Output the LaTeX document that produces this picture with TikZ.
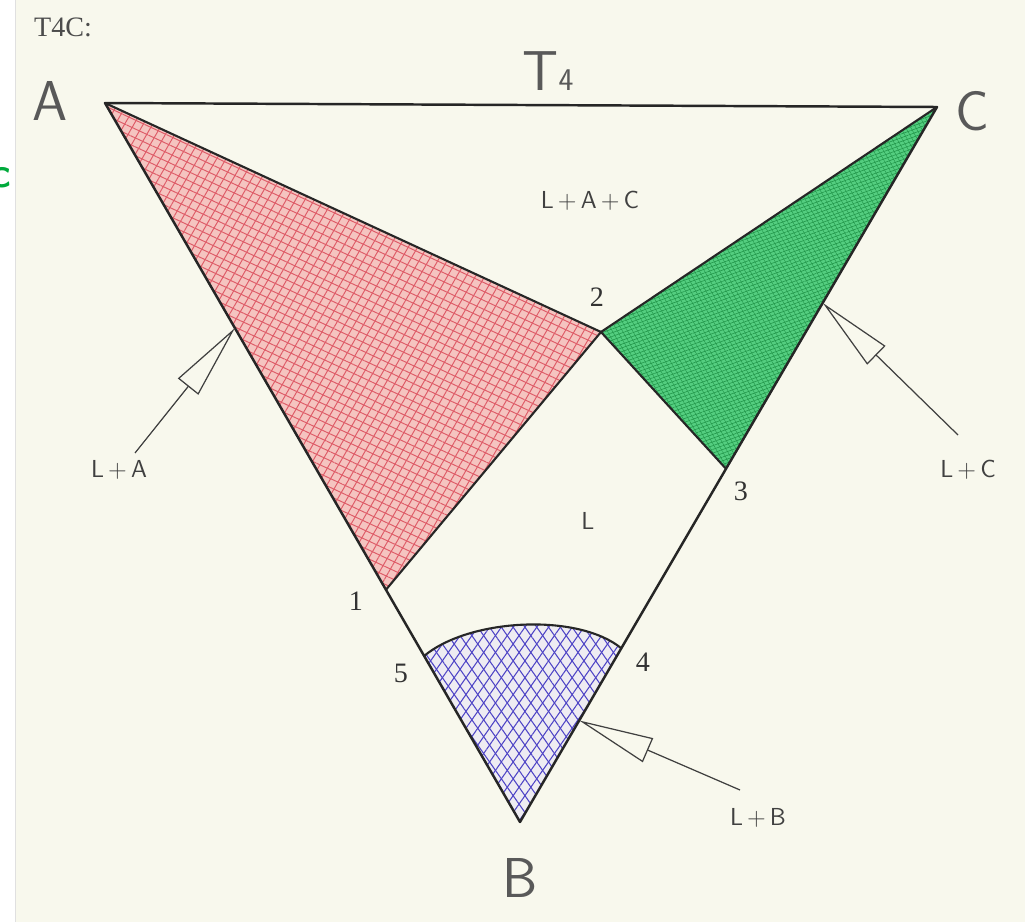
\documentclass[tikz,border=0pt]{standalone}
\usepackage{fontspec}
\setmainfont{Liberation Serif}
\usetikzlibrary{arrows.meta, calc, patterns.meta}
\definecolor{paper}{RGB}{248,248,237}
\definecolor{fillR}{RGB}{245,196,192}
\definecolor{hatchR}{RGB}{222,92,104}
\definecolor{fillG}{RGB}{84,206,128}
\definecolor{hatchG}{RGB}{34,150,74}
\definecolor{fillB}{RGB}{238,236,242}
\definecolor{hatchB}{RGB}{78,68,198}
\definecolor{tagG}{RGB}{0,170,60}
\tikzset{
  side/.style   ={line width=1.4pt, black!85, line join=round},
  tie/.style    ={line width=1.2pt, black!85},
  ptr/.style    ={-{Triangle[open, length=15mm, width=5.2mm]}, line width=0.7pt, black!75},
  corner/.style ={font=\fontsize{32}{36}\sffamily, text=black!65},
  phase/.style  ={font=\fontsize{14}{16}\sffamily, text=black!75},
  num/.style    ={font=\fontsize{16}{18}\selectfont, text=black!80},
  hatchRed/.style  ={fill=fillR,
     postaction={pattern={Lines[angle=-25,distance=4.6pt,line width=.55pt]}, pattern color=hatchR},
     postaction={pattern={Lines[angle=60,distance=4.6pt,line width=.55pt]}, pattern color=hatchR}},
  hatchGreen/.style={fill=fillG,
     postaction={pattern={Lines[angle=20,distance=2pt,line width=.35pt]}, pattern color=hatchG},
     postaction={pattern={Lines[angle=-60,distance=2.5pt,line width=.25pt]}, pattern color=hatchG}},
  hatchBlue/.style ={fill=fillB,
     postaction={pattern={Lines[angle=55,distance=5.5pt,line width=.6pt]}, pattern color=hatchB},
     postaction={pattern={Lines[angle=125,distance=5.5pt,line width=.6pt]}, pattern color=hatchB}},
}
\begin{document}
\begin{tikzpicture}
\begin{scope}[x=0.02cm, y=-0.02cm]
  \useasboundingbox (0,0) rectangle (1025,922);
  \fill[paper] (0,0) rectangle (1025,922);
  \fill[white] (0,0) rectangle (15,922);
  \draw[black!12, line width=0.4pt] (15,0) -- (15,922);

  \coordinate (A) at (105,103);
  \coordinate (C) at (937,107);
  \coordinate (B) at (520,822);
  \coordinate (p2) at (601,332);
  \coordinate (p1) at ($(A)!0.677!(B)$);
  \coordinate (p5) at ($(A)!0.769!(B)$);
  \coordinate (p3) at ($(C)!0.506!(B)$);
  \coordinate (p4) at ($(C)!0.757!(B)$);

  \fill[hatchRed] (A) -- (p2) -- (p1) -- cycle;
  \fill[hatchGreen] (C) -- (p2) -- (p3) -- cycle;
  \fill[hatchBlue] (p5) .. controls (470,618) and (578,613) .. (p4) -- (B) -- cycle;

  \draw[side] (A) -- (C) -- (B) -- cycle;
  \draw[tie] (A) -- (p2) -- (C);
  \draw[tie] (p1) -- (p2) -- (p3);
  \draw[tie] (p5) .. controls (470,618) and (578,613) .. (p4);

  \coordinate (tipA) at ($(A)!0.313!(B)$);
  \coordinate (tailA) at (135,453);
  \coordinate (tipC) at ($(C)!0.274!(B)$);
  \coordinate (tailC) at (958,435);
  \coordinate (tipB) at ($(C)!0.858!(B)$);
  \coordinate (tailB) at (740,790);
  \draw[ptr] (tailA) -- (tipA);
  \draw[ptr] (tailC) -- (tipC);
  \draw[ptr] (tailB) -- (tipB);

  \node[font=\fontsize{16}{18}\selectfont, text=black!70] (title) at (63,27) {T4C:};
  \node[font=\fontsize{24}{26}\sffamily\bfseries, text=tagG, anchor=east, inner sep=0pt] (tag) at (11,178) {c};

  \node[corner] (labA) at (50,101) {A};
  \node[corner] (labC) at (972,111) {C};
  \node[corner] (labB) at (520,878) {B};
  \node[corner, anchor=base] (labT) at (548,91) {T\fontsize{18}{20}\selectfont 4};

  \node[phase] (lAC) at (590,201) {L\,+\,A\,+\,C};
  \node[phase] (lL) at (588,521) {L};
  \node[phase] (lA) at (119,470) {L\,+\,A};
  \node[phase] (lC) at (968,470) {L\,+\,C};
  \node[phase] (lB) at (758,818) {L\,+\,B};

  \node[num] (n1) at (356,601) {1};
  \node[num] (n2) at (597,297) {2};
  \node[num] (n3) at (741,491) {3};
  \node[num] (n4) at (643,662) {4};
  \node[num] (n5) at (401,673) {5};
\end{scope}
\end{tikzpicture}
\end{document}
